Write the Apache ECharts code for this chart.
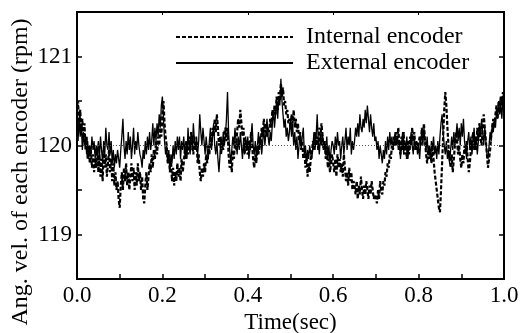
<!DOCTYPE html>
<html><head><meta charset="utf-8">
<script src="https://cdn.jsdelivr.net/npm/echarts@6/dist/echarts.min.js"></script>
<style>html,body{margin:0;padding:0;background:#fff}#c{width:532px;height:333px}</style>
</head><body><div id="c"></div>
<script>
var timeStep = 0.0025;
var internalEncoder = [
120.35,120.5,120.2,120.4,120.15,120.3,120.05,120.25,119.95,120.1,119.85,120.0,119.8,119.95,119.75,119.9,119.7,119.85,119.75,119.95,
119.7,119.9,119.65,119.85,119.6,119.95,119.75,119.9,119.65,119.8,119.95,119.7,119.85,119.6,119.8,119.55,119.7,119.5,119.6,119.4,
119.3,119.55,119.7,119.5,119.75,119.6,119.8,119.55,119.7,119.5,119.65,119.8,119.6,119.75,119.5,119.7,119.55,119.8,119.6,119.7,
119.5,119.65,119.4,119.35,119.55,119.7,119.5,119.65,119.8,119.7,119.9,119.75,119.95,119.85,120.05,119.9,120.1,120.0,120.2,120.1,
120.35,120.5,120.25,120.1,120.0,119.8,119.9,119.7,119.85,119.6,119.75,119.55,119.7,119.6,119.8,119.65,119.75,119.6,119.85,119.7,
119.8,119.95,119.85,120.05,119.9,120.1,119.95,120.15,120.0,119.9,120.1,119.95,120.05,119.8,119.9,119.7,119.6,119.75,119.65,119.8,
119.7,119.9,119.8,120.0,119.9,120.1,120.0,120.2,120.1,120.3,120.15,120.35,120.2,120.0,120.1,119.9,120.05,119.95,120.15,120.2,
120.05,120.2,119.9,119.75,119.85,119.7,119.95,119.85,120.05,119.95,120.15,120.3,120.2,120.4,120.25,120.1,120.2,119.9,120.05,119.95,
119.9,120.05,119.95,120.15,120.0,119.85,119.75,119.9,119.8,120.0,119.9,120.1,120.0,120.2,120.1,120.3,120.15,120.25,120.1,120.2,
120.15,120.3,120.2,120.4,120.3,120.45,120.35,120.55,120.4,120.6,120.5,120.7,120.55,120.65,120.45,120.5,120.35,120.4,120.25,120.3,
120.2,120.35,120.25,120.4,120.2,120.3,120.15,120.25,120.05,120.15,119.95,120.05,119.85,119.95,119.75,119.9,119.65,119.8,119.7,119.85,
119.9,120.05,119.95,120.15,120.0,120.1,119.95,120.2,120.05,120.25,120.1,119.95,120.05,119.85,119.95,119.75,119.85,119.7,119.8,119.9,
119.8,119.7,119.85,119.65,119.9,119.75,119.85,119.7,119.8,119.65,119.9,119.75,119.6,119.7,119.55,119.75,119.6,119.7,119.5,119.6,
119.55,119.45,119.6,119.4,119.55,119.45,119.65,119.5,119.4,119.55,119.45,119.6,119.5,119.4,119.55,119.45,119.6,119.5,119.4,119.45,
119.4,119.35,119.5,119.4,119.6,119.5,119.45,119.6,119.55,119.7,119.65,119.8,119.75,119.9,119.85,120.0,119.95,120.1,120.0,120.15,
120.05,120.2,120.0,119.9,120.1,119.95,120.15,119.9,120.0,119.85,120.05,119.9,120.1,120.0,120.2,120.05,120.15,119.95,120.05,119.95,
119.95,120.1,120.0,120.2,120.1,120.25,120.05,119.9,119.8,119.95,119.85,119.95,119.8,120.0,119.85,119.7,119.6,119.5,119.4,119.3,
119.25,119.5,119.8,120.1,120.4,120.6,120.45,120.2,120.0,119.85,119.75,119.9,119.7,119.85,120.0,120.15,120.05,119.9,120.0,119.85,
119.75,119.9,119.8,120.0,119.9,120.05,119.85,119.7,119.8,119.95,120.05,120.15,119.95,120.1,119.95,120.2,120.05,120.25,120.1,120.0,
120.2,120.35,120.2,120.05,119.9,119.75,119.85,119.95,120.1,120.2,120.3,120.2,120.35,120.45,120.3,120.5,120.4,120.55,120.45,120.6,
120.5
];
var externalEncoder = [
120.2,120.05,120.3,120.1,120.25,119.95,120.15,120.0,120.1,119.9,120.05,119.85,120.0,119.9,120.1,119.95,120.05,119.85,120.0,119.9,
120.05,119.85,120.1,119.95,119.8,120.05,119.9,120.2,120.0,119.95,120.15,119.9,120.05,119.8,119.95,119.75,119.9,119.8,119.95,119.85,
119.75,119.95,120.1,120.3,120.0,119.85,120.05,119.9,120.15,119.95,120.1,119.85,120.0,120.2,119.9,120.05,119.95,120.15,120.0,119.9,
119.85,119.75,119.95,119.85,120.05,119.9,120.1,119.95,120.15,119.95,120.05,120.25,120.0,120.2,120.05,120.25,120.1,120.35,120.2,120.45,
120.55,120.3,120.05,119.9,120.0,119.8,119.95,119.7,119.9,119.8,120.0,119.85,120.05,119.9,120.1,119.95,120.1,119.85,120.05,119.95,
120.1,119.9,120.05,119.85,120.2,120.0,119.9,120.15,119.95,120.25,120.05,119.95,120.1,119.9,120.05,120.35,120.15,120.0,120.2,120.05,
119.9,120.1,119.95,119.85,120.05,120.2,119.95,120.1,120.25,120.0,119.9,120.05,119.85,119.7,119.9,120.1,119.95,120.15,120.0,120.1,
120.3,120.6,120.15,119.95,119.8,119.95,120.1,120.0,120.2,120.05,119.9,120.1,119.95,120.15,120.0,119.85,120.05,119.9,120.1,119.95,
120.1,119.85,119.95,120.1,120.25,120.0,119.9,120.05,119.85,120.0,120.15,119.95,120.1,119.9,120.05,120.2,120.0,120.15,120.3,120.1,
120.0,120.15,120.05,120.25,120.4,120.2,120.35,120.5,120.3,120.55,120.45,120.75,120.5,120.35,120.2,120.3,120.1,120.2,120.05,120.15,
120.3,120.1,120.25,120.0,120.15,119.95,120.1,119.85,120.0,120.15,119.95,120.1,120.2,119.9,120.0,119.8,119.95,119.85,120.0,119.9,
119.85,120.0,120.15,119.95,120.1,120.35,120.05,119.9,120.1,120.0,120.15,119.95,120.05,119.9,120.1,119.85,120.0,119.8,119.95,120.05,
120.0,119.9,120.1,119.95,120.15,120.0,120.05,119.85,120.0,120.1,119.9,120.05,120.2,119.95,120.1,120.0,120.2,119.9,120.05,119.95,
120.05,120.2,120.1,120.25,120.1,120.35,120.2,120.15,120.3,120.2,120.4,120.25,120.45,120.3,120.15,120.35,120.2,120.1,120.25,120.05,
120.1,119.95,120.05,119.85,120.0,119.9,119.8,119.95,119.85,120.05,119.9,120.1,119.95,120.15,120.0,120.1,119.95,120.05,120.15,120.0,
120.1,119.95,120.05,119.85,120.0,120.15,119.9,120.05,119.95,120.1,119.85,120.0,119.95,120.15,120.0,119.9,120.1,119.95,120.05,119.9,
120.0,119.85,120.05,120.15,120.0,120.2,120.05,119.95,120.1,119.9,120.0,119.85,120.05,119.95,120.1,119.9,120.0,119.85,120.05,119.9,
120.1,120.25,120.35,120.15,120.0,119.9,120.05,119.85,119.95,119.8,119.95,120.1,119.95,120.15,120.0,120.1,120.25,120.05,120.2,120.0,
120.25,120.1,120.3,120.05,119.95,119.85,120.05,120.15,119.95,120.1,119.9,120.05,120.2,119.95,120.1,119.9,120.05,120.25,120.1,120.3,
120.15,120.0,120.2,120.05,119.9,119.85,120.0,120.15,120.05,120.25,120.15,120.3,120.2,120.4,120.3,120.5,120.35,120.45,120.3,120.55,
120.6
];
var seriesNames = ['Internal encoder', 'External encoder'];
var referenceLevel = 120;
var xTitle = 'Time(sec)';
var yTitle = 'Ang. vel. of each encoder (rpm)';
var xMin = 0, xMax = 1, yMin = 118.5, yMax = 121.5;

function pairs(arr){ return arr.map(function(v,i){ return [+(i*timeStep).toFixed(4), v]; }); }

var font = 'Liberation Serif';
var chart = echarts.init(document.getElementById('c'));
function line(){ return {show:true, onZero:false, lineStyle:{color:'#000', width:2}}; }
var hiddenLabel = {show:true, color:'rgba(0,0,0,0)', fontSize:1};
chart.setOption({
  animation:false,
  grid:{left:77, right:28, top:12, bottom:54, show:true, borderColor:'#000', borderWidth:2, outerBoundsMode:'none'},
  legend:{
    orient:'vertical', left:170, top:20, itemWidth:117, itemHeight:12, itemGap:2,
    data:seriesNames,
    itemStyle:{opacity:0, borderWidth:0},
    textStyle:{fontFamily:font, fontSize:24, color:'#000', padding:[0,0,0,8]}
  },
  xAxis:[{
    type:'value', min:xMin, max:xMax, interval:0.2, position:'bottom',
    axisLine:line(),
    axisTick:{inside:true, length:5, lineStyle:{color:'#000', width:1.5}},
    minorTick:{show:true, splitNumber:2, length:5, lineStyle:{color:'#000', width:1.5}},
    splitLine:{show:false},
    axisLabel:{fontFamily:font, fontSize:23, color:'#000', margin:5, formatter:function(v){return v.toFixed(1);}},
    name:xTitle, nameLocation:'middle', nameGap:20,
    nameTextStyle:{fontFamily:font, fontSize:23, color:'#000'}
  },{
    type:'value', min:xMin, max:xMax, interval:0.2, position:'top',
    axisLine:line(),
    axisTick:{show:true, inside:true, length:3, lineStyle:{color:'#000'}},
    axisLabel:hiddenLabel, splitLine:{show:false}
  }],
  yAxis:[{
    type:'value', min:yMin, max:yMax, interval:0.5, position:'left',
    axisLine:line(),
    axisTick:{inside:true, length:5, lineStyle:{color:'#000', width:1.5}},
    splitLine:{show:false},
    axisLabel:{fontFamily:font, fontSize:23, color:'#000', margin:5,
      formatter:function(v){ return (Math.abs(v-Math.round(v))<1e-6) ? String(Math.round(v)) : ''; }}
  },{
    type:'value', min:yMin, max:yMax, interval:0.5, position:'right',
    axisLine:line(),
    axisTick:{show:true, inside:true, length:5, lineStyle:{color:'#000', width:1.5}},
    splitLine:{show:false}, axisLabel:hiddenLabel
  }],
  series:[{
    name:seriesNames[0], type:'line', symbol:'none', data:pairs(internalEncoder),
    lineStyle:{color:'#000', width:2.2, type:[4,2]}, itemStyle:{color:'#000'},
    z:3,
    markLine:{silent:true, symbol:'none', label:{show:false},
      lineStyle:{color:'#555', width:1, type:[1,2]}, data:[{yAxis:referenceLevel}]}
  },{
    name:seriesNames[1], type:'line', symbol:'none', data:pairs(externalEncoder),
    lineStyle:{color:'#000', width:1.3, type:'solid'}, itemStyle:{color:'#000'}, z:2
  },{
    name:'frame', type:'line', xAxisIndex:1, yAxisIndex:1, symbol:'none', data:[], silent:true
  }]
});
var p0 = chart.convertToPixel({xAxisIndex:0, yAxisIndex:0}, [xMin, yMax]);
var p1 = chart.convertToPixel({xAxisIndex:0, yAxisIndex:0}, [xMax, yMin]);
chart.setOption({
  graphic:[{
    type:'text', x:21, y:172, rotation:Math.PI/2,
    style:{text:yTitle, fontFamily:font, fontSize:24, fill:'#000', align:'center', verticalAlign:'middle'}
  },{
    type:'rect', z:100, silent:true,
    shape:{x:Math.round(p0[0]), y:Math.round(p0[1]), width:Math.round(p1[0]-p0[0]), height:Math.round(p1[1]-p0[1])},
    style:{fill:'none', stroke:'#000', lineWidth:2}
  }]
});
</script></body></html>
